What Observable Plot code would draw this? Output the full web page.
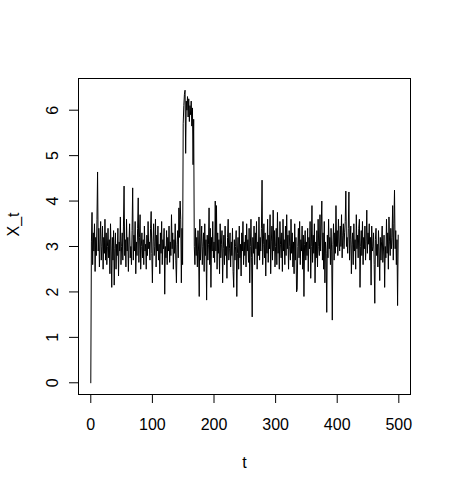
<!DOCTYPE html>
<html>
<head>
<meta charset="utf-8">
<script src="https://cdn.jsdelivr.net/npm/d3@7"></script>
<script src="https://cdn.jsdelivr.net/npm/@observablehq/plot@0.6"></script>
<style>
  html, body { margin: 0; padding: 0; background: #fff; }
</style>
</head>
<body>
<div id="chart"></div>
<script>
// X_t values, t = 0..99
const xt000 = [
  0, 3.1, 3.75, 2.6, 3.3, 2.9, 3.5, 2.45, 3.2, 2.8, 3.6, 4.64, 2.9, 3.4, 2.55, 3.1, 3.55, 2.7, 3.0, 3.45, 2.5, 3.2, 2.85, 3.6, 2.7,
  3.3, 2.6, 3.0, 3.4, 2.75, 3.15, 2.4, 3.5, 2.9, 2.1, 3.2, 2.7, 3.35, 2.15, 2.95, 3.3, 2.5, 3.05, 2.8, 3.4, 2.35, 3.1, 2.9, 3.65, 2.6,
  3.0, 3.3, 2.7, 3.45, 4.33, 2.8, 3.15, 2.55, 3.6, 2.9, 3.2, 2.45, 3.1, 3.5, 2.75, 3.0, 2.6, 3.35, 4.29, 2.7, 3.25, 2.9, 3.55, 2.4, 3.1,
  2.8, 3.4, 4.07, 2.65, 3.2, 3.7, 2.5, 3.0, 3.3, 2.75, 3.15, 2.6, 3.45, 2.9, 3.05, 2.5, 3.25, 2.8, 3.55, 2.95, 3.1, 2.7, 3.4, 3.77, 2.85
];
// t = 100..199
const xt100 = [
  2.2, 3.1, 3.5, 2.8, 3.0, 3.6, 2.55, 3.25, 2.9, 3.45, 2.7, 3.05, 2.4, 3.3, 2.85, 3.55, 2.6, 3.15, 2.95, 3.4, 1.95, 3.0, 2.75, 3.35, 2.6,
  3.2, 2.9, 3.45, 2.65, 3.1, 2.8, 3.7, 2.95, 3.3, 2.5, 3.15, 2.85, 3.5, 2.7, 2.2, 3.05, 3.35, 2.75, 3.85, 3.2, 4.0, 3.6, 2.2, 3.4, 2.6,
  5.7, 6.1, 6.35, 6.44, 5.05, 6.2, 6.0, 6.3, 5.85, 6.25, 5.75, 6.1, 5.9, 6.2, 5.65, 6.05, 4.8, 5.8, 3.0, 2.6, 3.4, 2.8, 3.2, 2.55, 3.35,
  2.9, 1.9, 3.6, 2.7, 3.1, 3.45, 2.6, 3.0, 3.3, 2.45, 3.5, 2.8, 3.15, 1.82, 3.25, 2.7, 3.05, 3.85, 2.6, 3.4, 2.1, 3.2, 2.9, 3.55, 2.75
];
// t = 200..299
const xt200 = [
  3.1, 2.65, 4.0, 2.9, 3.9, 2.5, 3.3, 2.85, 3.15, 2.4, 3.5, 2.75, 3.05, 3.35, 2.2, 2.95, 3.25, 2.6, 3.45, 2.8, 3.0, 2.3, 3.2, 3.6, 2.7,
  2.95, 3.3, 2.55, 3.1, 2.8, 3.4, 2.45, 2.1, 3.15, 2.7, 3.0, 3.35, 1.9, 2.85, 3.2, 2.5, 3.45, 2.75, 3.05, 2.35, 3.3, 2.9, 3.55, 2.6, 3.1,
  2.8, 3.25, 2.55, 3.5, 2.9, 3.15, 2.65, 3.4, 2.2, 3.0, 3.6, 2.75, 1.45, 3.2, 2.85, 3.45, 2.6, 3.3, 2.95, 3.55, 2.5, 3.1, 2.8, 3.65, 2.7,
  3.2, 2.9, 3.4, 4.46, 2.6, 3.05, 3.5, 2.75, 3.3, 2.35, 3.15, 2.85, 3.6, 2.65, 3.25, 2.95, 3.7, 2.4, 3.1, 3.45, 2.7, 3.8, 2.9, 3.35, 2.55
];
// t = 300..399
const xt300 = [
  3.0, 3.4, 2.6, 3.75, 2.85, 3.2, 2.5, 3.55, 3.05, 2.75, 3.3, 2.45, 3.6, 2.9, 3.15, 2.6, 3.45, 2.8, 3.7, 2.95, 3.25, 2.5, 3.35, 3.0, 2.7,
  3.6, 2.85, 3.3, 2.55, 3.1, 2.4, 3.5, 2.7, 3.2, 2.0, 2.05, 3.0, 3.4, 2.75, 3.55, 2.6, 3.15, 2.9, 3.45, 2.5, 3.25, 1.9, 3.05, 3.35, 2.7,
  3.1, 2.8, 3.4, 2.45, 3.2, 2.95, 3.55, 2.3, 3.0, 3.9, 2.65, 3.25, 2.85, 3.5, 2.2, 3.1, 2.75, 3.35, 2.55, 3.6, 3.0, 2.8, 3.7, 2.9, 3.45,
  4.0, 2.7, 3.3, 2.5, 3.55, 2.2, 3.1, 2.85, 1.55, 3.25, 2.75, 3.6, 2.95, 3.2, 2.6, 3.4, 2.9, 1.38, 3.05, 3.5, 2.7, 3.3, 2.85, 3.9, 3.0
];
// t = 400..499
const xt400 = [
  3.35, 2.8, 3.6, 3.1, 2.9, 3.45, 3.0, 3.7, 2.75, 3.25, 3.5, 2.95, 3.3, 3.55, 4.22, 3.0, 3.2, 2.85, 3.4, 4.2, 2.7, 3.15, 3.45, 2.4, 3.05,
  3.3, 2.6, 3.5, 2.9, 3.15, 2.5, 3.7, 2.95, 3.25, 2.75, 3.4, 3.6, 2.1, 3.0, 3.35, 2.8, 3.55, 2.6, 3.2, 2.95, 3.45, 2.7, 3.1, 3.8, 2.85,
  3.3, 3.05, 3.5, 2.7, 3.2, 2.15, 3.45, 2.9, 3.0, 3.3, 2.6, 1.75, 3.15, 3.4, 2.8, 3.05, 2.55, 3.35, 2.9, 2.25, 3.2, 2.7, 3.1, 3.45, 2.65,
  2.9, 3.25, 2.1, 3.0, 2.75, 3.6, 2.85, 3.3, 2.5, 3.65, 3.1, 2.8, 3.4, 2.95, 3.2, 3.9, 2.7, 3.5, 4.24, 2.95, 3.35, 2.6, 3.15, 1.7, 3.25
];

const tTicks = [0, 100, 200, 300, 400, 500];
const yTicks = [0, 1, 2, 3, 4, 5, 6];
const xLabel = "t";
const yLabel = "X_t";

const values = [...xt000, ...xt100, ...xt200, ...xt300, ...xt400];
const series = values.map((v, i) => ({t: i, x: v}));

// R-style 4% padding of the data range
function pad(ext) {
  const d = (ext[1] - ext[0]) * 0.04;
  return [ext[0] - d, ext[1] + d];
}
const xDomain = pad(d3.extent(series, d => d.t));
const yDomain = pad(d3.extent(series, d => d.x));

const font = "'Liberation Sans', Arial, Helvetica, sans-serif";

const chart = Plot.plot({
  width: 451,
  height: 493,
  marginLeft: 78,
  marginRight: 41,
  marginTop: 78,
  marginBottom: 99,
  style: {fontFamily: font, fontSize: "16px", color: "#000", background: "#fff"},
  x: {domain: xDomain, label: null},
  y: {domain: yDomain, label: null},
  marks: [
    Plot.frame({stroke: "#000", strokeWidth: 1}),
    Plot.line(series, {x: "t", y: "x", stroke: "#000", strokeWidth: 1}),
    Plot.axisX({ticks: tTicks, tickSize: 9, tickPadding: 15, tickFormat: d => String(d), fontSize: 16, label: null}),
    Plot.axisY({ticks: yTicks, tickSize: 9, tickPadding: 12, tickRotate: -90, tickFormat: d => String(d), fontSize: 16, label: null}),
    Plot.text([xLabel], {frameAnchor: "bottom", dy: 68, text: d => d, fontSize: 16, lineAnchor: "middle"}),
    Plot.text([yLabel], {frameAnchor: "left", dx: -65, text: d => d, rotate: -90, fontSize: 16, lineAnchor: "middle"})
  ]
});
document.getElementById("chart").appendChild(chart);
</script>
</body>
</html>
